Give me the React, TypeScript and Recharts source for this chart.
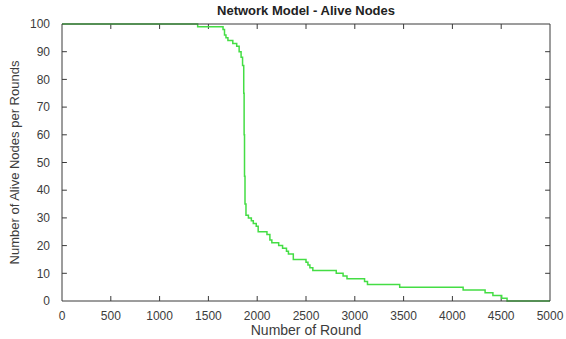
import React from "react";
import { LineChart, Line, XAxis, YAxis, Label, ReferenceLine } from "recharts";

// round at which the count changes, and alive nodes from that round on
const rounds = [
  0, 1390, 1650, 1665, 1680, 1700, 1750, 1790, 1815, 1835, 1850, 1862, 1866,
  1870, 1875, 1885, 1910, 1940, 1960, 1990, 2010, 2100, 2130, 2150, 2220, 2260,
  2300, 2320, 2370, 2500, 2520, 2540, 2570, 2810, 2880, 2920, 3100, 3130, 3460,
  4110, 4335, 4415, 4505, 4560, 5000,
];
const alive = [
  100, 99, 98, 96, 95, 94, 93, 92, 90, 88, 85, 75, 60, 45, 35, 31, 30, 29, 28,
  27, 25, 24, 22, 21, 20, 19, 18, 17, 15, 14, 13, 12, 11, 10, 9, 8, 7, 6, 5, 4,
  3, 2, 1, 0, 0,
];

const xTicks = [0, 500, 1000, 1500, 2000, 2500, 3000, 3500, 4000, 4500, 5000];
const yTicks = [0, 10, 20, 30, 40, 50, 60, 70, 80, 90, 100];

const data = rounds.map((r, i) => ({ round: r, alive: alive[i] }));

const font = "Liberation Sans, Arial, sans-serif";
const axisColor = "#3a3a3a";
const tickStyle = { fontSize: 12, fill: "#3c3c3c", fontFamily: font };

// inward tick length in data units (about 5px)
const tickX = 50;
const tickY = 1.8;

export default function App() {
  return (
    <div style={{ position: "absolute", left: 0, top: 0, width: 566, height: 339, background: "#fff" }}>
      <div
        style={{
          position: "absolute",
          left: 62,
          width: 488,
          top: 3,
          textAlign: "center",
          fontFamily: font,
          fontSize: 13,
          fontWeight: "bold",
          color: "#222",
        }}
      >
        Network Model - Alive Nodes
      </div>
      <LineChart
        width={566}
        height={339}
        data={data}
        margin={{ top: 24, right: 16, left: 0, bottom: 0 }}
      >
        <XAxis
          dataKey="round"
          type="number"
          domain={[0, 5000]}
          ticks={xTicks}
          height={38}
          tickLine={false}
          tickMargin={4}
          tick={tickStyle}
          stroke={axisColor}
        >
          <Label
            value="Number of Round"
            position="insideBottom"
            offset={4}
            style={{ fontSize: 14, fill: "#3c3c3c", fontFamily: font }}
          />
        </XAxis>
        <YAxis
          domain={[0, 100]}
          ticks={yTicks}
          width={62}
          tickLine={false}
          tickMargin={6}
          tick={tickStyle}
          stroke={axisColor}
        >
          <Label
            value="Number of Alive Nodes per Rounds"
            angle={-90}
            position="insideLeft"
            offset={14}
            style={{ textAnchor: "middle", fontSize: 13, fill: "#3c3c3c", fontFamily: "Liberation Sans Narrow, " + font }}
          />
        </YAxis>
        <XAxis xAxisId="top" orientation="top" mirror type="number" domain={[0, 5000]} tick={false} tickLine={false} stroke={axisColor} />
        <YAxis yAxisId="right" orientation="right" mirror domain={[0, 100]} tick={false} tickLine={false} stroke={axisColor} />
        {xTicks.slice(1, -1).map((t) => (
          <ReferenceLine key={"xb" + t} segment={[{ x: t, y: 0 }, { x: t, y: tickY }]} stroke={axisColor} />
        ))}
        {xTicks.slice(1, -1).map((t) => (
          <ReferenceLine key={"xt" + t} segment={[{ x: t, y: 100 }, { x: t, y: 100 - tickY }]} stroke={axisColor} />
        ))}
        {yTicks.slice(1, -1).map((t) => (
          <ReferenceLine key={"yl" + t} segment={[{ x: 0, y: t }, { x: tickX, y: t }]} stroke={axisColor} />
        ))}
        {yTicks.slice(1, -1).map((t) => (
          <ReferenceLine key={"yr" + t} segment={[{ x: 5000, y: t }, { x: 5000 - tickX, y: t }]} stroke={axisColor} />
        ))}
        <Line
          type="stepAfter"
          dataKey="alive"
          stroke="#44dd44"
          strokeWidth={1.5}
          dot={false}
          isAnimationActive={false}
        />
      </LineChart>
    </div>
  );
}
